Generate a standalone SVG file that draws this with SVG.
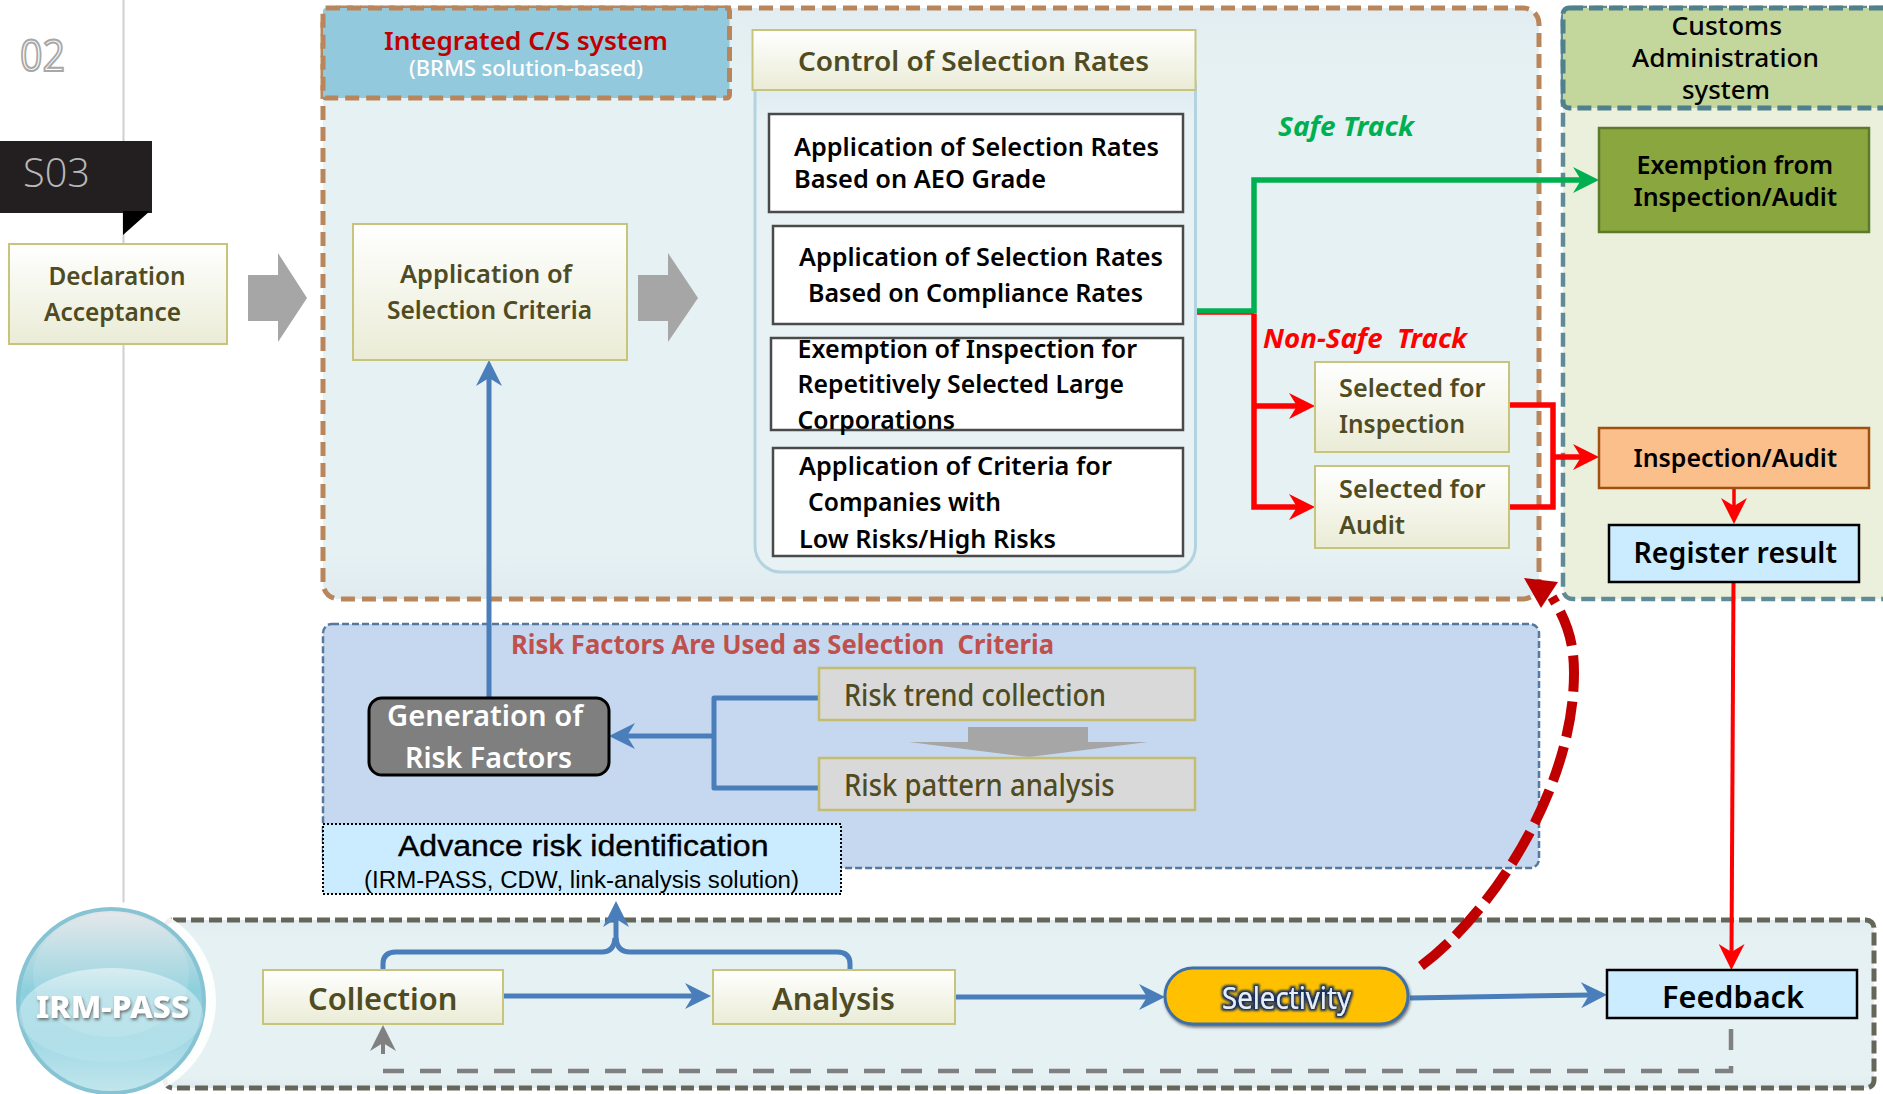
<svg xmlns="http://www.w3.org/2000/svg" width="1883" height="1094" viewBox="0 0 1883 1094">
<style>
text{font-family:"Noto Sans","Open Sans","Liberation Sans",sans-serif;white-space:pre}
.n{font-size:26px;font-weight:600;fill:#4f4b23}
.k{font-size:26px;font-weight:600;fill:#000}
.box{fill:url(#cream);stroke:#c9c47c;stroke-width:2}
.inner{fill:#fff;stroke:#4a4a4a;stroke-width:2.5}
.risk{fill:#d9d9d9;stroke:#c4bd6f;stroke-width:2.5}
.b{fill:none;stroke:#4a7ebb;stroke-width:5}
.r{fill:none;stroke:#f00;stroke-width:5.5}
</style>
<defs>
<linearGradient id="cream" x1="0" y1="0" x2="0" y2="1"><stop offset="0" stop-color="#fff"/><stop offset="1" stop-color="#eaecd6"/></linearGradient>
<linearGradient id="pale" x1="0" y1="0" x2="0" y2="1"><stop offset="0" stop-color="#e1edf0"/><stop offset=".1" stop-color="#e6f1f4"/><stop offset=".92" stop-color="#e6f1f4"/><stop offset="1" stop-color="#dfebee"/></linearGradient>
<linearGradient id="panel" x1="0" y1="0" x2="0" y2="1"><stop offset="0" stop-color="#d5e6ee"/><stop offset=".12" stop-color="#e8f2f5"/><stop offset="1" stop-color="#e8f2f5"/></linearGradient>
<linearGradient id="sph" x1="0" y1="0" x2="0" y2="1"><stop offset="0" stop-color="#e4e6e8"/><stop offset=".45" stop-color="#8ccfdd"/><stop offset=".7" stop-color="#9fd8e4"/><stop offset="1" stop-color="#c2e6ed"/></linearGradient>
<linearGradient id="gl" x1="0" y1="0" x2="0" y2="1"><stop offset="0" stop-color="#fff" stop-opacity=".5"/><stop offset="1" stop-color="#fff" stop-opacity=".08"/></linearGradient>
<filter id="glow2" x="-20%" y="-30%" width="140%" height="160%"><feMorphology in="SourceAlpha" operator="dilate" radius="2" result="d"/><feGaussianBlur in="d" stdDeviation="1.3" result="e"/><feFlood flood-color="#17305c"/><feComposite in2="e" operator="in" result="f"/><feMerge><feMergeNode in="f"/><feMergeNode in="SourceGraphic"/></feMerge></filter>
<filter id="sh" x="-20%" y="-30%" width="140%" height="160%"><feDropShadow dx="1" dy="2" stdDeviation="1.5" flood-color="#555" flood-opacity=".8"/></filter>
<marker id="mb" markerUnits="userSpaceOnUse" markerWidth="26" markerHeight="26" viewBox="0 0 26 26" refX="10" refY="13" orient="auto"><path d="M0 0L26 13L0 26L8 13Z" fill="#4a7ebb"/></marker>
<marker id="mg" markerUnits="userSpaceOnUse" markerWidth="26" markerHeight="26" viewBox="0 0 26 26" refX="10" refY="13" orient="auto"><path d="M0 0L26 13L0 26L8 13Z" fill="#00b050"/></marker>
<marker id="mr" markerUnits="userSpaceOnUse" markerWidth="26" markerHeight="26" viewBox="0 0 26 26" refX="10" refY="13" orient="auto"><path d="M0 0L26 13L0 26L8 13Z" fill="#f00"/></marker>
<marker id="mx" markerUnits="userSpaceOnUse" markerWidth="26" markerHeight="26" viewBox="0 0 26 26" refX="10" refY="13" orient="auto"><path d="M0 0L26 13L0 26L8 13Z" fill="#808080"/></marker>
</defs>
<rect width="1883" height="1094" fill="#fff"/>
<path d="M123.500 0V910" stroke="#cfcfcf" stroke-width="2" fill="none"/>
<g id="page-number"><text x="20" y="71" fill="#fff" stroke="#a8a8a8" stroke-width="2" style="font-family:'Open Sans',sans-serif;font-size:44px" textLength="45" lengthAdjust="spacingAndGlyphs">02</text></g>
<g id="step-tag"><rect x="0" y="141" width="152" height="72" fill="#231f20"/><path d="M123 211H150L123 235Z" fill="#000"/><text x="23" y="187" style="font-family:'Open Sans',sans-serif;font-size:40px;font-weight:300" fill="#b8b8b8" textLength="67" lengthAdjust="spacingAndGlyphs">S03</text></g>

<g id="cs-system"><rect x="323" y="8" width="1216" height="591" rx="16" fill="url(#pale)" stroke="#b9855a" stroke-width="5" stroke-dasharray="14 7"/></g>
<g id="customs-system"><rect x="1563" y="8" width="340" height="591" rx="10" fill="#ebf0dc" stroke="#5f8a96" stroke-width="4.500" stroke-dasharray="14 6"/></g>
<g id="customs-header"><rect x="1563" y="8" width="340" height="100" rx="6" fill="#c3d69b" stroke="#50808c" stroke-width="5" stroke-dasharray="14 6"/>
<text class="k" x="1671.500" y="35" textLength="110.500" lengthAdjust="spacingAndGlyphs" style="font-weight:500">Customs</text>
<text class="k" x="1632" y="67" textLength="187" lengthAdjust="spacingAndGlyphs" style="font-weight:500">Administration</text>
<text class="k" x="1682" y="99" textLength="88" lengthAdjust="spacingAndGlyphs" style="font-weight:500">system</text></g>
<g id="risk-panel"><rect x="323" y="624" width="1216" height="244" rx="9" fill="#c5d8ef" stroke="#55789f" stroke-width="2.500" stroke-dasharray="7 3"/>
<text x="511" y="654" style="font-size:27px;font-weight:700" fill="#c0504d" textLength="543" lengthAdjust="spacingAndGlyphs">Risk Factors Are Used as Selection  Criteria</text></g>
<g id="irm-panel"><rect x="165" y="920" width="1709" height="168" rx="8" fill="url(#pale)" stroke="#65665a" stroke-width="5" stroke-dasharray="13 5"/></g>
<g id="irm-pass"><circle cx="117" cy="1001" r="99" fill="#fff" opacity=".9"/><ellipse cx="111" cy="1001" rx="93" ry="92" fill="url(#sph)" stroke="#86c4d4" stroke-width="4"/><ellipse cx="111" cy="975" rx="78" ry="62" fill="#fff" opacity=".12"/><ellipse cx="111" cy="1015" rx="92" ry="47" fill="url(#gl)"/>
<text x="36" y="1018" style="font-size:30px;font-weight:800" fill="#fff" filter="url(#sh)" textLength="153" lengthAdjust="spacingAndGlyphs">IRM-PASS</text></g>

<g id="connectors">
<path d="M248 275H278V253L307 298L278 342V321H248Z" fill="#a6a6a6"/>
<path d="M638 275H668V253L698 298L668 342V321H638Z" fill="#a6a6a6"/>
<path d="M968 727H1088V742H1148L1029 757L909 742H968Z" fill="#a6a6a6"/>
<path class="b" d="M489 697V376" marker-end="url(#mb)"/>
<path class="b" d="M819 698H714V788H819" stroke-linejoin="round"/>
<path class="b" d="M714 736H625" marker-end="url(#mb)"/>
<path class="b" d="M503 996H695" marker-end="url(#mb)"/>
<path class="b" d="M955 997H1149" marker-end="url(#mb)"/>
<path class="b" d="M1410 998L1591 995" marker-end="url(#mb)"/>
<path class="b" d="M383 969V964Q383 952 396 952H602Q614 952 615 938"/>
<path class="b" d="M850 969V964Q850 952 837 952H630Q617 952 616 938"/>
<path class="b" d="M616 945V917" marker-end="url(#mb)"/>
<path d="M1195 311H1254V180H1583" fill="none" stroke="#00b050" stroke-width="5.500" marker-end="url(#mg)"/>
<path d="M1195 314H1254" fill="none" stroke="#f00" stroke-width="1.500"/>
<path class="r" d="M1254 314V507H1299" marker-end="url(#mr)"/>
<path class="r" d="M1254 406H1299" marker-end="url(#mr)"/>
<path class="r" d="M1509 405H1553V507H1509"/>
<path class="r" d="M1553 457H1583" marker-end="url(#mr)"/>
<path class="r" d="M1734 488V508" style="stroke-width:3.500" marker-end="url(#mr)"/>
<path class="r" d="M1733.500 582L1731.500 954" style="stroke-width:4" marker-end="url(#mr)"/>
<path d="M383 1054V1041" stroke="#808080" stroke-width="4" fill="none" marker-end="url(#mx)"/>
<path d="M383 1071H1731V1020" fill="none" stroke="#808080" stroke-width="4.500" stroke-dasharray="21 16"/>
<path d="M1421 966C1490 915 1574 790 1574 673C1574 640 1566 620 1552 597" fill="none" stroke="#c00000" stroke-width="10" stroke-dasharray="36 10"/>
<path d="M1524 578L1558 582L1541 608Z" fill="#c00000"/>
</g>

<g id="cs-header"><rect x="323" y="8" width="406.500" height="90" rx="3" fill="#92c9dc" stroke="#b9855a" stroke-width="5" stroke-dasharray="14 7"/>
<text x="384" y="50" style="font-size:26px;font-weight:600" fill="#c00000" textLength="284" lengthAdjust="spacingAndGlyphs">Integrated C/S system</text>
<text x="409" y="76" style="font-size:21px;font-weight:500" fill="#fff" textLength="234" lengthAdjust="spacingAndGlyphs">(BRMS solution-based)</text></g>
<g id="declaration"><rect class="box" x="9" y="244" width="218" height="100"/><text class="n" x="48.500" y="285" textLength="137" lengthAdjust="spacingAndGlyphs">Declaration</text><text class="n" x="44" y="321" textLength="137" lengthAdjust="spacingAndGlyphs">Acceptance</text></g>
<g id="application"><rect class="box" x="353" y="224" width="274" height="136"/><text class="n" x="400" y="283" textLength="172" lengthAdjust="spacingAndGlyphs">Application of</text><text class="n" x="387" y="319" textLength="205" lengthAdjust="spacingAndGlyphs">Selection Criteria</text></g>

<g id="control-panel"><rect x="755" y="60" width="440.500" height="512" rx="26" fill="url(#panel)" stroke="#b3d3e0" stroke-width="3"/></g>
<g id="control-title"><rect class="box" x="752.500" y="30" width="443" height="60"/><text class="n" x="798" y="71" style="font-size:27px" textLength="351" lengthAdjust="spacingAndGlyphs">Control of Selection Rates</text></g>
<g id="rate-aeo"><rect class="inner" x="769" y="114" width="414" height="98"/><text class="k" x="794" y="156" textLength="365" lengthAdjust="spacingAndGlyphs">Application of Selection Rates</text><text class="k" x="794" y="188" textLength="252" lengthAdjust="spacingAndGlyphs">Based on AEO Grade</text></g>
<g id="rate-compliance"><rect class="inner" x="773" y="226" width="410" height="98"/><text class="k" x="799" y="266" textLength="364" lengthAdjust="spacingAndGlyphs">Application of Selection Rates</text><text class="k" x="808" y="302" textLength="335" lengthAdjust="spacingAndGlyphs">Based on Compliance Rates</text></g>
<g id="rate-exemption"><rect class="inner" x="771" y="338" width="412" height="92"/><text class="k" x="797.500" y="358" textLength="339.500" lengthAdjust="spacingAndGlyphs">Exemption of Inspection for</text><text class="k" x="797.500" y="393" textLength="326.500" lengthAdjust="spacingAndGlyphs">Repetitively Selected Large</text><text class="k" x="797.500" y="429" textLength="157.500" lengthAdjust="spacingAndGlyphs">Corporations</text></g>
<g id="rate-criteria"><rect class="inner" x="773" y="448" width="410" height="108"/><text class="k" x="799" y="475" textLength="313" lengthAdjust="spacingAndGlyphs">Application of Criteria for</text><text class="k" x="808" y="511" textLength="193" lengthAdjust="spacingAndGlyphs">Companies with</text><text class="k" x="799" y="548" textLength="257" lengthAdjust="spacingAndGlyphs">Low Risks/High Risks</text></g>

<text id="safe-track" x="1278" y="136" style="font-size:26px;font-weight:700;font-style:italic" fill="#00b050" textLength="136" lengthAdjust="spacingAndGlyphs">Safe Track</text>
<text id="non-safe-track" x="1263" y="348" style="font-size:26px;font-weight:700;font-style:italic" fill="#f00" textLength="204" lengthAdjust="spacingAndGlyphs">Non-Safe  Track</text>

<g id="selected-inspection"><rect class="box" x="1315" y="362" width="194" height="90"/><text class="n" x="1339" y="397" textLength="146.500" lengthAdjust="spacingAndGlyphs">Selected for</text><text class="n" x="1339" y="433" textLength="126" lengthAdjust="spacingAndGlyphs">Inspection</text></g>
<g id="selected-audit"><rect class="box" x="1315" y="466" width="194" height="82"/><text class="n" x="1339" y="497.500" textLength="146.500" lengthAdjust="spacingAndGlyphs">Selected for</text><text class="n" x="1339" y="534" textLength="66" lengthAdjust="spacingAndGlyphs">Audit</text></g>
<g id="exemption"><rect x="1599" y="128" width="270" height="104" fill="#8aa63f" stroke="#5d7a2c" stroke-width="2.500"/><text class="k" x="1636.500" y="174" textLength="196.500" lengthAdjust="spacingAndGlyphs">Exemption from</text><text class="k" x="1633.500" y="206" textLength="203.500" lengthAdjust="spacingAndGlyphs">Inspection/Audit</text></g>
<g id="inspection-audit"><rect x="1599" y="428" width="270" height="60" fill="#fbbf8c" stroke="#a0500f" stroke-width="2.500"/><text class="k" x="1633.500" y="467" textLength="203.500" lengthAdjust="spacingAndGlyphs">Inspection/Audit</text></g>
<g id="register-result"><rect x="1609" y="525" width="250" height="57" fill="#cbecff" stroke="#000" stroke-width="2.500"/><text class="k" x="1633.500" y="563" style="font-size:29px" textLength="203.500" lengthAdjust="spacingAndGlyphs">Register result</text></g>

<g id="generation"><rect x="369" y="698" width="240" height="77" rx="13" fill="#7f7f7f" stroke="#000" stroke-width="3"/><text x="387" y="726" style="font-size:29px;font-weight:600" fill="#fff" textLength="196" lengthAdjust="spacingAndGlyphs">Generation of</text><text x="405" y="768" style="font-size:29px;font-weight:600" fill="#fff" textLength="167" lengthAdjust="spacingAndGlyphs">Risk Factors</text></g>
<g id="risk-trend"><rect class="risk" x="819" y="668" width="376" height="52"/><text class="n" x="844" y="706" style="font-size:30px;font-weight:500" textLength="262" lengthAdjust="spacingAndGlyphs">Risk trend collection</text></g>
<g id="risk-pattern"><rect class="risk" x="819" y="758" width="376" height="52"/><text class="n" x="844" y="796" style="font-size:30px;font-weight:500" textLength="270.500" lengthAdjust="spacingAndGlyphs">Risk pattern analysis</text></g>
<g id="advance"><rect x="323" y="824" width="518" height="70" fill="#cbecff" stroke="#000" stroke-width="2" stroke-dasharray="2 2"/><text x="398" y="856" style="font-family:'Liberation Sans',sans-serif;font-size:30px" fill="#000" stroke="#000" stroke-width=".4" textLength="370.500" lengthAdjust="spacingAndGlyphs">Advance risk identification</text><text x="364" y="888" style="font-family:'Liberation Sans',sans-serif;font-size:23px" fill="#000" textLength="435" lengthAdjust="spacingAndGlyphs">(IRM-PASS, CDW, link-analysis solution)</text></g>
<g id="collection"><rect class="box" x="263" y="970" width="240" height="54"/><text class="n" x="308" y="1010" style="font-size:30px" textLength="149.500" lengthAdjust="spacingAndGlyphs">Collection</text></g>
<g id="analysis"><rect class="box" x="713" y="970" width="242" height="54"/><text class="n" x="772" y="1010" style="font-size:30px" textLength="123" lengthAdjust="spacingAndGlyphs">Analysis</text></g>
<g id="selectivity"><rect x="1165" y="968" width="243" height="56" rx="28" fill="#ffc000" stroke="#3e6fa8" stroke-width="3" filter="url(#sh)"/><text x="1222" y="1009" style="font-size:30px;font-weight:400" fill="#e8eef8" filter="url(#glow2)" textLength="129" lengthAdjust="spacingAndGlyphs">Selectivity</text></g>
<g id="feedback"><rect x="1607" y="970" width="250" height="48" fill="#cbecff" stroke="#000" stroke-width="2.500"/><text class="k" x="1662" y="1008" style="font-size:30px" textLength="142" lengthAdjust="spacingAndGlyphs">Feedback</text></g>
</svg>
